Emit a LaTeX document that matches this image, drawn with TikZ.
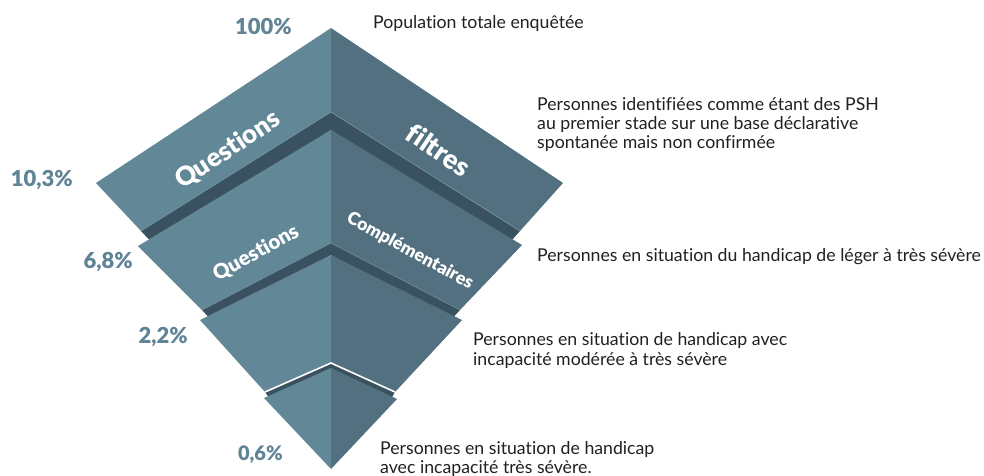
\documentclass[tikz,border=0pt]{standalone}
\usepackage{fontspec}
\setmainfont{Lato}[Ligatures=NoCommon]
\newfontfamily\heavyfont{Lato Black}[Ligatures=NoCommon]
\definecolor{leftface}{RGB}{98,135,151}
\definecolor{rightface}{RGB}{82,112,127}
\definecolor{shadowc}{RGB}{58,82,96}
\definecolor{edgec}{RGB}{112,147,163}
\definecolor{numc}{RGB}{96,132,150}
\definecolor{txtc}{RGB}{35,31,32}
\tikzset{
  lface/.style={fill=leftface},
  rface/.style={fill=rightface},
  shade3d/.style={fill=shadowc},
  pct/.style={anchor=base east, inner sep=0pt, text=numc, font=\heavyfont\fontsize{22}{24}\selectfont},
  desc/.style={anchor=base west, inner sep=0pt, text=txtc, font=\fontsize{17.7}{19}\selectfont},
  bandlabel/.style={text=white, inner sep=0pt, font=\heavyfont\fontsize{#1}{#1}\selectfont},
}
\begin{document}
\begin{tikzpicture}[x=1pt,y=-1pt]
\useasboundingbox (0,0) rectangle (984,475);
% band 1
\coordinate (L1) at (96,183);
\coordinate (A1) at (331,28);
\coordinate (R1) at (563,183);
\coordinate (BL1) at (141,231);
\coordinate (BR1) at (520,231);
\coordinate (I1) at (331,112);
% band 2
\coordinate (L2) at (138,246);
\coordinate (A2) at (331,130);
\coordinate (R2) at (522,245);
\coordinate (BL2) at (202,310);
\coordinate (BR2) at (460,310);
\coordinate (I2) at (331,243);
% band 3
\coordinate (L3) at (200,320);
\coordinate (A3) at (331,255);
\coordinate (R3) at (462,320);
\coordinate (BL3) at (265,392);
\coordinate (BR3) at (395,392);
\coordinate (I3) at (331,363);
% band 4
\coordinate (L4) at (264,398);
\coordinate (A4) at (331,368);
\coordinate (R4) at (397,399);
\coordinate (T4) at (331,469);

% band 1
\fill[lface] (L1) -- (A1) -- (I1) -- (BL1) -- cycle;
\fill[rface] (A1) -- (R1) -- (BR1) -- (I1) -- cycle;
\fill[shade3d] (BL1) -- (I1) -- (BR1) -- (504,249) -- (A2) -- (158,249) -- cycle;
\draw[edgec, line width=0.7pt] (BL1) -- (I1) -- (BR1);
% band 2
\fill[lface] (L2) -- (A2) -- (I2) -- (BL2) -- cycle;
\fill[rface] (A2) -- (R2) -- (BR2) -- (I2) -- cycle;
\fill[shade3d] (BL2) -- (I2) -- (BR2) -- (449,322) -- (A3) -- (213,322) -- cycle;
\draw[edgec, line width=0.5pt] (BL2) -- (I2) -- (BR2);
% band 3
\fill[lface] (L3) -- (A3) -- (I3) -- (BL3) -- cycle;
\fill[rface] (A3) -- (R3) -- (BR3) -- (I3) -- cycle;
\fill[shade3d] (BL3) -- (I3) -- (BR3) -- (391,399) -- (331,369) -- (270,399) -- cycle;
% band 4
\fill[lface] (L4) -- (A4) -- (T4) -- cycle;
\fill[rface] (A4) -- (R4) -- (T4) -- cycle;
\draw[white, line width=1.6pt] (BL3) -- (I3) -- (BR3);

% band labels
\node[bandlabel=26, rotate=33.5] (q1) at (228,150) {Questions};
\node[bandlabel=27, rotate=-34] (f1) at (439,150) {filtres};
\node[bandlabel=20.5, rotate=29] (q2) at (256,253) {Questions};
\node[bandlabel=17.8, rotate=-28.6] (c2) at (410,251) {Complémentaires};

% percentages
\node[pct] (p100) at (292,34) {100\%};
\node[pct] (p103) at (73,186) {10,3\%};
\node[pct] (p68) at (133,268) {6,8\%};
\node[pct] (p22) at (188,343) {2,2\%};
\node[pct, font=\heavyfont\fontsize{20}{22}\selectfont] (p06) at (283,460) {0,6\%};

% descriptions
\node[desc] (d1) at (373,28) {Population totale enquêtée};
\node[desc] (d2a) at (537,110) {Personnes identifiées comme étant des PSH};
\node[desc] (d2b) at (537,129) {au premier stade sur une base déclarative};
\node[desc] (d2c) at (537,148) {spontanée mais non confirmée};
\node[desc] (d3) at (537,261) {Personnes en situation du handicap de léger à très sévère};
\node[desc] (d4a) at (473,345) {Personnes en situation de handicap avec};
\node[desc] (d4b) at (473,365) {incapacité modérée à très sévère};
\node[desc] (d5a) at (380,454) {Personnes en situation de handicap};
\node[desc] (d5b) at (380,473) {avec incapacité très sévère.};
\end{tikzpicture}
\end{document}
